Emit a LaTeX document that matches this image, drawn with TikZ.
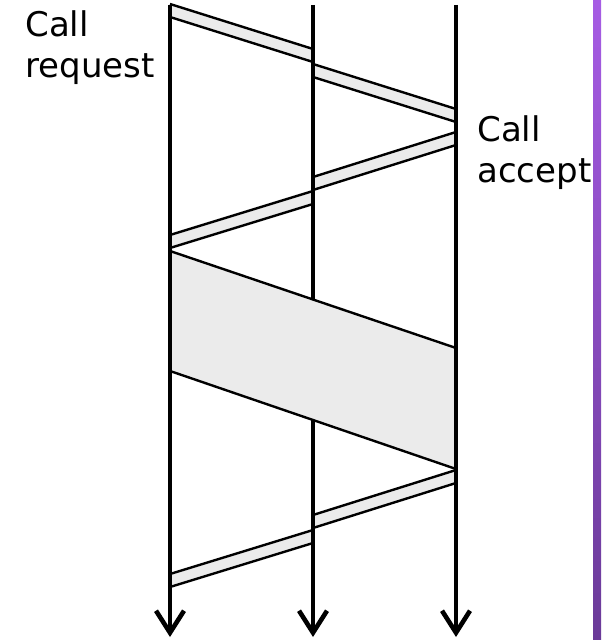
\documentclass[tikz,border=0pt]{standalone}
\usepackage{fontspec}
\setmainfont{DejaVu Sans}
\usetikzlibrary{arrows.meta}
\definecolor{barTop}{HTML}{A65CE4}
\definecolor{barBottom}{HTML}{6A3A98}
\tikzset{
  timeline/.style={line width=2.3pt},
  timeline end/.style={line width=2.3pt, -{Straight Barb[length=11pt,width=14pt]}},
  packet/.style={fill=gray!16},
  packet edge/.style={line width=1.2pt},
  label text/.style={font=\fontsize{17}{20.5}\selectfont, align=left,
    inner sep=0pt, anchor=base west}
}
\begin{document}
\begin{tikzpicture}[x=0.5pt, y=-0.5pt]
  \useasboundingbox (0,0) rectangle (601,640);
  % side bar
  \shade [top color=barTop, bottom color=barBottom]
    (593,0) rectangle (601,640);
  % call set-up and clearing packets
  \foreach \xa/\ya/\xb/\yb in {170/4/313/49, 313/64/456/109,
      456/132/313/177, 313/191/170/235,
      456/470/313/515, 313/530/170/574} {
    \fill [packet] (\xa,\ya) -- (\xb,\yb) -- (\xb,{\yb+13}) -- (\xa,{\ya+13}) -- cycle;
    \draw [packet edge] (\xa,\ya) -- (\xb,\yb) (\xa,{\ya+13}) -- (\xb,{\yb+13});
  }
  % data transfer
  \fill [packet] (170,251) -- (456,348) -- (456,469) -- (170,371) -- cycle;
  \draw [packet edge] (170,251) -- (456,348) (170,371) -- (456,469);
  % time lines
  \coordinate (src top) at (170,5);
  \coordinate (src end) at (170,637);
  \coordinate (sw top) at (313,5);
  \coordinate (sw in) at (313,300);
  \coordinate (sw out) at (313,420);
  \coordinate (sw end) at (313,637);
  \coordinate (dst top) at (456,5);
  \coordinate (dst end) at (456,637);
  \draw [timeline end] (src top) -- (src end);
  \draw [timeline end] (dst top) -- (dst end);
  \draw [timeline] (sw top) -- (sw in);
  \draw [timeline end] (sw out) -- (sw end);
  % labels (base is the second line)
  \node [label text] (req) at (25,78) {Call\\request};
  \node [label text] (acc) at (477,183) {Call\\accept};
\end{tikzpicture}
\end{document}
